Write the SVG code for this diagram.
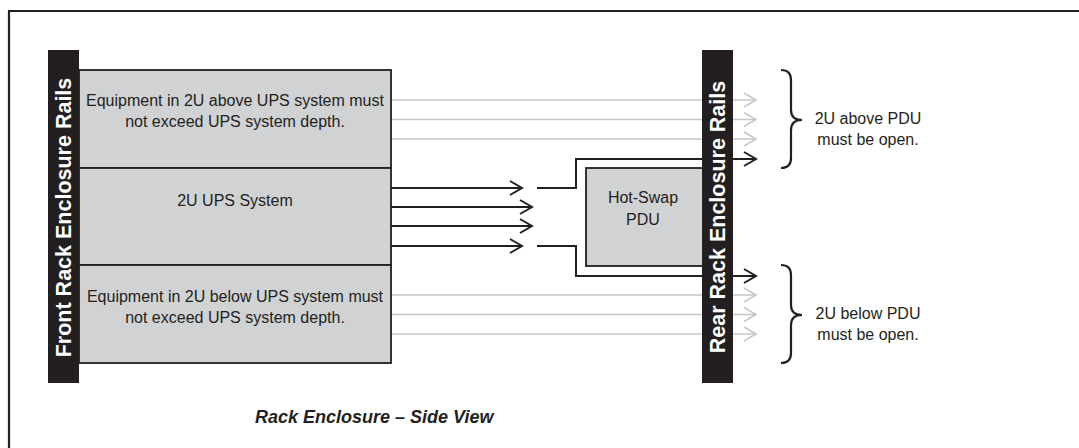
<svg xmlns="http://www.w3.org/2000/svg" width="1079" height="448" viewBox="0 0 1079 448">
<style>
.t{font-family:"Liberation Sans",Arial,sans-serif;font-size:16px;fill:#231f20}
.rail{fill:#231f20}
.rt{font-family:"Liberation Sans",Arial,sans-serif;font-size:21.5px;font-weight:bold;fill:#fff}
.box{fill:#d1d2d4;stroke:#231f20;stroke-width:1.8}
.g{stroke:#c6c7c9;stroke-width:1.6;fill:none}
.k{stroke:#231f20;stroke-width:2;fill:none}
.br{stroke:#231f20;stroke-width:2.2;fill:none}
</style>
<defs>
<marker id="ag" markerWidth="16" markerHeight="16" refX="13" refY="8" orient="auto" markerUnits="userSpaceOnUse">
<path d="M1,1 L13,8 L1,15" fill="none" stroke="#c6c7c9" stroke-width="1.6"/>
</marker>
<marker id="ak" markerWidth="16" markerHeight="16" refX="13" refY="8" orient="auto" markerUnits="userSpaceOnUse">
<path d="M1,1 L13,8 L1,15" fill="none" stroke="#231f20" stroke-width="2"/>
</marker>
</defs>
<rect width="1079" height="448" fill="#fff"/>
<path d="M9,448 L9,11 L1079,11" fill="none" stroke="#231f20" stroke-width="2.2"/>

<g id="connectors">
<path class="g" d="M391,100 H756" marker-end="url(#ag)"/>
<path class="g" d="M391,119.5 H756" marker-end="url(#ag)"/>
<path class="g" d="M391,139 H756" marker-end="url(#ag)"/>
<path class="g" d="M391,295 H756" marker-end="url(#ag)"/>
<path class="g" d="M391,314.5 H756" marker-end="url(#ag)"/>
<path class="g" d="M391,334 H756" marker-end="url(#ag)"/>
<path class="k" d="M391,188 H522" marker-end="url(#ak)"/>
<path class="k" d="M391,207 H532" marker-end="url(#ak)"/>
<path class="k" d="M391,226 H532" marker-end="url(#ak)"/>
<path class="k" d="M391,246 H522" marker-end="url(#ak)"/>
<path class="k" d="M537,188 H576 V159 H756" marker-end="url(#ak)"/>
<path class="k" d="M537,246 H576 V276 H756" marker-end="url(#ak)"/>
</g>

<g id="front-rail">
<rect class="rail" x="48" y="50" width="31" height="333"/>
<text class="rt" transform="translate(71,217.5) rotate(-90)" text-anchor="middle">Front Rack Enclosure Rails</text>
</g>

<g id="equip-above">
<rect class="box" x="79" y="70" width="312" height="98"/>
<text class="t" x="235" y="106" text-anchor="middle">Equipment in 2U above UPS system must</text>
<text class="t" x="235" y="127" text-anchor="middle">not exceed UPS system depth.</text>
</g>

<g id="ups">
<rect class="box" x="79" y="168" width="312" height="97"/>
<text class="t" x="235" y="206" text-anchor="middle">2U UPS System</text>
</g>

<g id="equip-below">
<rect class="box" x="79" y="265" width="312" height="98"/>
<text class="t" x="235" y="302" text-anchor="middle">Equipment in 2U below UPS system must</text>
<text class="t" x="235" y="323" text-anchor="middle">not exceed UPS system depth.</text>
</g>

<g id="pdu">
<rect class="box" x="586" y="168" width="117" height="98"/>
<text class="t" x="643" y="203" text-anchor="middle">Hot-Swap</text>
<text class="t" x="643" y="225" text-anchor="middle">PDU</text>
</g>

<g id="rear-rail">
<rect class="rail" x="702" y="50" width="31" height="333"/>
<text class="rt" transform="translate(725,217) rotate(-90)" text-anchor="middle">Rear Rack Enclosure Rails</text>
</g>

<g id="above-note">
<path class="br" d="M781,70 Q791,70 791,80 L791,110 Q791,120 802,120 Q791,120 791,130 L791,158 Q791,168 781,168"/>
<text class="t" x="868" y="124" text-anchor="middle">2U above PDU</text>
<text class="t" x="868" y="145" text-anchor="middle">must be open.</text>
</g>

<g id="below-note">
<path class="br" d="M781,265 Q791,265 791,275 L791,305 Q791,315 802,315 Q791,315 791,325 L791,353 Q791,363 781,363"/>
<text class="t" x="868" y="319" text-anchor="middle">2U below PDU</text>
<text class="t" x="868" y="340" text-anchor="middle">must be open.</text>
</g>

<g id="caption">
<text x="255" y="423" style="font-family:'Liberation Sans',Arial,sans-serif;font-size:18px;font-weight:bold;font-style:italic;fill:#231f20">Rack Enclosure – Side View</text>
</g>
</svg>
